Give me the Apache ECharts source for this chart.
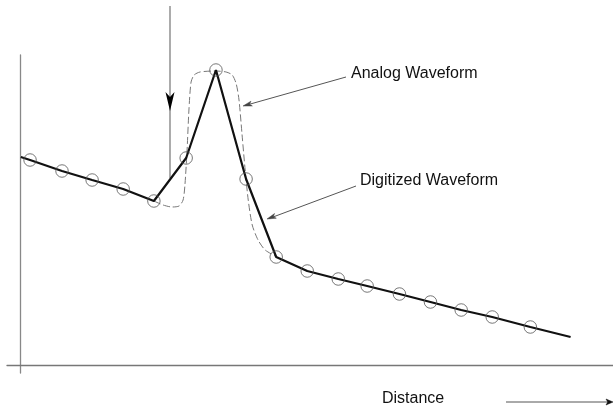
<!DOCTYPE html>
<html>
<head>
<meta charset="utf-8">
<script src="https://cdn.jsdelivr.net/npm/echarts@6/dist/echarts.min.js"></script>
<style>html,body{margin:0;padding:0;background:#fff}#c{width:613px;height:410px}</style>
</head>
<body>
<div id="c"></div>
<script>
// Digitized samples (distance units, amplitude units)
var sampleX = [0.33,1.37,2.35,3.36,4.36,5.41,6.38,7.36,8.34,9.35,10.36,11.30,12.35,13.36,14.36,15.37,16.61];
var sampleY = [20.5,19.4,18.5,17.6,16.4,20.7,29.5,18.6,10.8,9.4,8.6,7.9,7.1,6.3,5.5,4.8,3.8];
var traceStart = [0.03, 20.8];
var traceEnd = [17.92, 2.8];
// Analog waveform (pulse region)
var analogX = [4.36,4.66,4.95,5.18,5.31,5.37,5.44,5.50,5.57,5.67,5.86,6.35,6.71,6.91,7.04,7.13,7.23,7.33,7.43,7.56,7.75,7.98,8.37];
var analogY = [16.4,16.0,15.8,15.9,16.5,18.0,21.5,25.5,28.3,29.0,29.3,29.4,29.3,29.0,28.1,26.5,23.0,19.5,16.5,14.0,12.5,11.5,10.8];
var labels = ["Analog Waveform", "Digitized Waveform", "Distance"];

var samples = sampleX.map(function(x,i){return [x, sampleY[i]];});
var trace = [traceStart].concat(samples).concat([traceEnd]);
var analog = analogX.map(function(x,i){return [x, analogY[i]];});

var chart = echarts.init(document.getElementById('c'), null, {renderer:'canvas'});
var font = '"Liberation Sans", Arial, sans-serif';
function head(x, y, dx, dy, len, hw, color){
  var l = Math.sqrt(dx*dx+dy*dy); dx/=l; dy/=l;
  var bx = x - dx*len, by = y - dy*len;
  return {type:'polygon', shape:{points:[[x,y],[bx - dy*hw, by + dx*hw],[x - dx*len*0.75, y - dy*len*0.75],[bx + dy*hw, by - dx*hw]]},
    style:{fill:color, stroke:color, lineWidth:0.5}, z:10};
}
chart.setOption({
  animation:false,
  grid:{left:7, right:0, top:55, bottom:37},
  xAxis:{type:'value', min:-0.42, max:19.3,
    axisLine:{show:true, onZero:true, lineStyle:{color:'#777', width:1.3}},
    axisTick:{show:false}, axisLabel:{show:false}, splitLine:{show:false}},
  yAxis:{type:'value', min:-0.8, max:31,
    axisLine:{show:true, onZero:true, lineStyle:{color:'#888', width:1.3}},
    axisTick:{show:false}, axisLabel:{show:false}, splitLine:{show:false}},
  series:[
    {type:'line', data:analog, smooth:0.25, showSymbol:false, symbol:'none',
      lineStyle:{color:'#777', width:1, type:[7,3]}, z:2},
    {type:'line', data:trace, showSymbol:false, symbol:'none',
      lineStyle:{color:'#111', width:2.2}, z:3},
    {type:'scatter', data:samples, symbol:'circle', symbolSize:12.5,
      itemStyle:{color:'rgba(0,0,0,0)', borderColor:'#555', borderWidth:1}, z:4}
  ],
  graphic:[
    {type:'line', shape:{x1:170,y1:6,x2:170,y2:178}, style:{stroke:'#888', lineWidth:1.4}},
    {type:'polygon', shape:{points:[[165.5,92],[170,97],[174.5,92],[170,111]]}, style:{fill:'#000'}, z:10},
    {type:'line', shape:{x1:346,y1:77,x2:245,y2:105.5}, style:{stroke:'#555', lineWidth:1}},
    head(243,106,-103,29,9,2.5,'#444'),
    {type:'line', shape:{x1:356,y1:186,x2:269,y2:218.5}, style:{stroke:'#555', lineWidth:1}},
    head(267,219,-89,33,9,2.5,'#444'),
    {type:'line', shape:{x1:506,y1:402,x2:608,y2:402}, style:{stroke:'#555', lineWidth:1}},
    head(613,402,1,0,7,3,'#111'),
    {type:'text', left:351, top:66, style:{text:labels[0], font:'16px '+font, fill:'#111'}},
    {type:'text', left:360, top:173, style:{text:labels[1], font:'16px '+font, fill:'#111'}},
    {type:'text', left:382, top:391, style:{text:labels[2], font:'16px '+font, fill:'#111'}}
  ]
});
</script>
</body>
</html>
